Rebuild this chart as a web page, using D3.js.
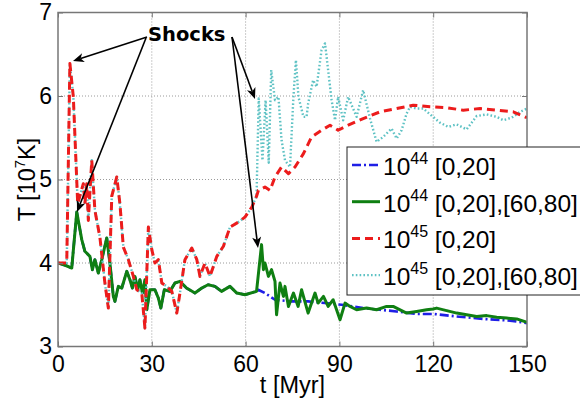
<!DOCTYPE html>
<html><head><meta charset="utf-8">
<script src="https://cdn.jsdelivr.net/npm/d3@7"></script>
<style>body{margin:0;background:#fff}svg{display:block}</style>
</head><body>
<script>
// Axis ticks
const xTicks = [0, 30, 60, 90, 120, 150];
const yTicks = [3, 4, 5, 6, 7];

// 1e44 erg/s runs: common history up to the second outburst window
const t44Common = [0, 2.5, 4.4, 6.0, 7.6, 8.6, 10.2, 11.0, 11.8, 12.9, 14.0, 15.6, 16.6, 17.7, 18.2, 19.3, 20.4, 22.0, 23.0, 23.8, 24.6, 25.5, 26.2, 27.0, 27.8, 28.4, 29.4, 31.0, 32.1, 32.9, 34.0, 35.8, 37.4, 39.0, 41.1, 43.8, 46.0, 48.0, 50.2, 52.3, 55.0, 57.2, 59.8, 63.5];
const T44Common = [4.00, 3.97, 3.94, 4.61, 4.28, 4.14, 4.08, 3.92, 4.04, 3.88, 4.04, 4.30, 4.00, 3.60, 3.54, 3.72, 3.70, 3.90, 3.80, 3.70, 3.84, 3.68, 3.80, 3.64, 3.80, 3.44, 3.68, 3.68, 3.58, 3.46, 3.68, 3.66, 3.76, 3.78, 3.70, 3.64, 3.70, 3.74, 3.72, 3.66, 3.72, 3.64, 3.62, 3.66];

// 1e44, single outburst [0,20]
const t44a = [64.0, 66.2, 69.4, 74.7, 80.0, 85.4, 90.7, 97.6, 103.0, 108.3, 114.7, 120.0, 127.5, 136.0, 144.6, 150.0];
const T44a = [3.68, 3.64, 3.56, 3.54, 3.54, 3.52, 3.50, 3.46, 3.44, 3.42, 3.39, 3.39, 3.36, 3.33, 3.31, 3.28];

// 1e44, two outbursts [0,20],[60,80]
const t44b = [65.1, 65.7, 66.2, 67.3, 68.3, 69.4, 69.9, 71.0, 72.1, 72.6, 73.7, 75.3, 76.8, 77.9, 80.0, 82.2, 83.2, 84.9, 86.4, 88.0, 90.2, 91.8, 93.4, 95.5, 98.7, 101.9, 105.1, 107.2, 108.3, 111.5, 114.7, 117.9, 120.0, 121.1, 124.3, 127.5, 130.7, 133.9, 137.1, 140.3, 143.5, 146.7, 150.0];
const T44b = [4.22, 3.92, 4.00, 3.84, 3.92, 3.78, 3.38, 3.76, 3.60, 3.72, 3.48, 3.64, 3.48, 3.68, 3.40, 3.64, 3.52, 3.60, 3.48, 3.56, 3.32, 3.52, 3.48, 3.44, 3.46, 3.44, 3.48, 3.48, 3.46, 3.40, 3.42, 3.44, 3.45, 3.46, 3.43, 3.40, 3.38, 3.36, 3.37, 3.35, 3.34, 3.33, 3.29];

// 1e45 erg/s runs: common history
const t45Common = [0, 2.8, 3.8, 4.9, 6.3, 8.1, 8.6, 9.2, 9.7, 10.8, 11.8, 13.4, 15.0, 16.1, 17.2, 18.8, 19.8, 20.9, 22.5, 24.1, 25.2, 26.8, 27.8, 28.9, 30.0, 31.0, 32.1, 33.2, 34.8, 36.4, 38.0, 39.0, 40.6, 42.8, 44.4, 45.4, 47.0, 48.6, 50.8, 52.9, 55.0, 57.7, 59.8, 62.0, 63.5];
const T45Common = [4.00, 4.00, 6.39, 5.99, 4.71, 4.95, 4.71, 4.95, 4.51, 5.23, 4.63, 4.31, 3.76, 3.46, 4.80, 5.03, 4.71, 4.19, 4.04, 3.84, 3.68, 3.64, 3.22, 4.43, 4.16, 4.00, 4.04, 3.76, 3.72, 3.66, 3.40, 3.64, 4.04, 4.18, 4.04, 3.84, 4.00, 3.84, 4.08, 4.20, 4.43, 4.49, 4.55, 4.67, 4.80];

// 1e45, single outburst [0,20]
const t45a = [64.1, 66.2, 67.8, 69.4, 71.5, 73.7, 75.8, 78.5, 81.1, 84.3, 87.0, 89.6, 92.8, 97.6, 103.0, 108.3, 113.6, 119.0, 124.3, 129.6, 135.0, 140.3, 145.6, 150.0];
const T45a = [4.87, 4.91, 4.87, 5.03, 5.15, 5.07, 5.15, 5.31, 5.51, 5.59, 5.65, 5.59, 5.65, 5.73, 5.81, 5.85, 5.89, 5.87, 5.86, 5.83, 5.85, 5.83, 5.81, 5.74];

// 1e45, two outbursts [0,20],[60,80]
const t45b = [64.2, 65.4, 66.4, 67.4, 68.2, 69.4, 70.5, 71.5, 72.6, 74.2, 75.3, 76.1, 76.9, 78.5, 79.5, 80.0, 81.6, 82.7, 84.3, 85.4, 86.4, 87.5, 88.6, 89.6, 91.2, 92.8, 95.5, 97.6, 99.8, 101.9, 104.0, 106.7, 108.3, 109.9, 111.5, 112.6, 114.7, 116.8, 119.0, 122.2, 124.8, 127.5, 130.7, 133.9, 137.1, 140.3, 142.4, 145.1, 147.8, 150.0];
const T45b = [5.97, 5.23, 5.95, 5.20, 6.31, 5.95, 5.99, 5.47, 5.23, 5.15, 5.99, 6.43, 5.99, 5.75, 5.75, 5.91, 6.19, 6.11, 6.55, 6.63, 6.31, 5.95, 5.71, 5.99, 5.71, 5.99, 5.75, 6.07, 5.73, 5.45, 5.51, 5.61, 5.49, 5.59, 5.79, 5.87, 5.85, 5.85, 5.78, 5.68, 5.63, 5.66, 5.60, 5.76, 5.78, 5.75, 5.71, 5.74, 5.81, 5.85];

const seriesNames = ["10|44| [0,20]", "10|44| [0,20],[60,80]", "10|45| [0,20]", "10|45| [0,20],[60,80]"];

const W = 580, H = 404;
const plot = {left: 58, right: 527, top: 12.5, bottom: 346.5};
const FONT = "'Liberation Sans', Arial, sans-serif";

const svg = d3.select("body").append("svg").attr("width", W).attr("height", H)
  .style("font-family", FONT);

const x = d3.scaleLinear().domain([0, 150]).range([plot.left, plot.right]);
const y = d3.scaleLinear().domain([3, 7]).range([plot.bottom, plot.top]);

// dotted grid
const grid = svg.append("g").attr("stroke", "#9a9a9a").attr("stroke-width", 1).attr("stroke-dasharray", "1,2");
grid.selectAll("line.gx").data(xTicks.slice(1, -1)).join("line")
  .attr("x1", d => x(d)).attr("x2", d => x(d)).attr("y1", plot.top).attr("y2", plot.bottom);
grid.selectAll("line.gy").data(yTicks.slice(1, -1)).join("line")
  .attr("x1", plot.left).attr("x2", plot.right).attr("y1", d => y(d)).attr("y2", d => y(d));

// series
const zip = (ts, vs) => ts.map((t, i) => [t, vs[i]]);
const blue = zip(t44Common, T44Common).concat(zip(t44a, T44a));
const green = zip(t44Common, T44Common).concat(zip(t44b, T44b));
const red = zip(t45Common, T45Common).concat(zip(t45a, T45a));
const cyan = zip(t45Common, T45Common).concat(zip(t45b, T45b));

const styles = [
  {data: blue, color: "#1f1fe6", width: 2.6, dash: "9,3,2,3"},
  {data: green, color: "#0f7f12", width: 3, dash: null},
  {data: red, color: "#ec1c1c", width: 3, dash: "8,5"},
  {data: cyan, color: "#5ec2c4", width: 2.4, dash: "1.6,2.2"}
];

const line = d3.line().x(d => x(d[0])).y(d => y(d[1]));
svg.append("defs").append("clipPath").attr("id", "pc").append("rect")
  .attr("x", plot.left).attr("y", plot.top).attr("width", plot.right - plot.left).attr("height", plot.bottom - plot.top);

// the dotted 1e45 two-outburst run goes underneath the dashed red one
const drawOrder = [0, 1, 3, 2];
const gl = svg.append("g").attr("clip-path", "url(#pc)");
drawOrder.forEach(k => {
  const s = styles[k];
  gl.append("path").datum(s.data).attr("d", line)
    .attr("fill", "none").attr("stroke", s.color).attr("stroke-width", s.width)
    .attr("stroke-linejoin", "round")
    .attr("stroke-dasharray", s.dash);
});

// axes with inward ticks
const axisColor = "#777";
function styleAxis(g) {
  g.select(".domain").remove();
  g.selectAll(".tick line").attr("stroke", axisColor);
  g.selectAll(".tick text").attr("fill", "#000").style("font-size", "23px").style("font-family", FONT);
}
svg.append("g").attr("transform", `translate(0,${plot.bottom})`)
  .call(d3.axisBottom(x).tickValues(xTicks).tickSize(-5).tickPadding(9)).call(styleAxis);
svg.append("g").attr("transform", `translate(${plot.left},0)`)
  .call(d3.axisLeft(y).tickValues(yTicks).tickSize(-5).tickPadding(6).tickFormat(d3.format("d"))).call(styleAxis);
svg.append("g").attr("transform", `translate(0,${plot.top})`)
  .call(d3.axisTop(x).tickValues(xTicks).tickSize(-5).tickFormat("")).call(styleAxis);
svg.append("g").attr("transform", `translate(${plot.right},0)`)
  .call(d3.axisRight(y).tickValues(yTicks).tickSize(-5).tickFormat("")).call(styleAxis);

svg.append("rect").attr("x", plot.left).attr("y", plot.top)
  .attr("width", plot.right - plot.left).attr("height", plot.bottom - plot.top)
  .attr("fill", "none").attr("stroke", axisColor).attr("stroke-width", 1.5);

// axis labels
svg.append("text").attr("x", (plot.left + plot.right) / 2).attr("y", 393)
  .attr("text-anchor", "middle").style("font-size", "23.5px").text("t [Myr]");

const yl = svg.append("text").attr("transform", `translate(35,${(plot.top + plot.bottom) / 2}) rotate(-90)`)
  .attr("text-anchor", "middle").style("font-size", "23.5px");
yl.append("tspan").text("T [10");
yl.append("tspan").attr("dy", -10).style("font-size", "15px").text("7");
yl.append("tspan").attr("dy", 10).text("K]");

// legend
const lg = svg.append("g");
lg.append("rect").attr("x", 347).attr("y", 147).attr("width", 240).attr("height", 148)
  .attr("fill", "#fff").attr("stroke", "#222").attr("stroke-width", 1);
seriesNames.forEach((name, i) => {
  const cy = 165 + i * 36.7;
  const s = styles[i];
  lg.append("line").attr("x1", 352).attr("x2", 380).attr("y1", cy).attr("y2", cy)
    .attr("stroke", s.color).attr("stroke-width", s.width).attr("stroke-dasharray", s.dash);
  const parts = name.split("|");
  const tx = lg.append("text").attr("x", 383).attr("y", cy + 10).style("font-size", "24.5px");
  tx.append("tspan").text(parts[0]);
  tx.append("tspan").attr("dy", -11).style("font-size", "16px").text(parts[1]);
  tx.append("tspan").attr("dy", 11).text(parts[2]);
});

// "Shocks" annotation with arrows
svg.append("text").attr("x", 148).attr("y", 41)
  .style("font-family", "'DejaVu Sans', sans-serif").style("font-weight", "bold").style("font-size", "19.5px")
  .text("Shocks");

function arrow(x1, y1, x2, y2) {
  const a = Math.atan2(y2 - y1, x2 - x1);
  const L = 11, Wd = 4.5, back = 8;
  const bx = x2 - L * Math.cos(a), by = y2 - L * Math.sin(a);
  const nx = -Math.sin(a), ny = Math.cos(a);
  const ix = x2 - back * Math.cos(a), iy = y2 - back * Math.sin(a);
  svg.append("line").attr("x1", x1).attr("y1", y1).attr("x2", ix).attr("y2", iy)
    .attr("stroke", "#000").attr("stroke-width", 1.6);
  svg.append("path").attr("d",
    `M${x2},${y2}L${bx + nx * Wd},${by + ny * Wd}L${ix},${iy}L${bx - nx * Wd},${by - ny * Wd}Z`)
    .attr("fill", "#000");
}
arrow(147, 37, 73, 61);
arrow(146, 38, 77, 212);
arrow(232, 37, 255, 99);
arrow(232, 37, 258, 248);
</script>
</body></html>
